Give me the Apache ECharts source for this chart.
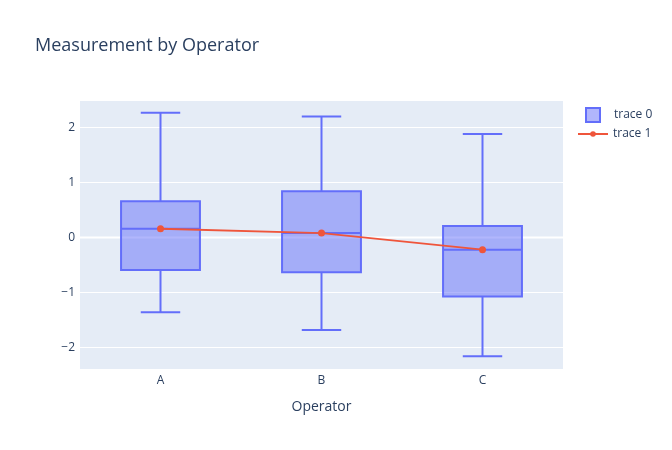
<!DOCTYPE html>
<html>
<head>
<meta charset="utf-8">
<script src="https://cdn.jsdelivr.net/npm/echarts@6/dist/echarts.min.js"></script>
<style>
  html, body { margin: 0; padding: 0; background: #fff; }
  #chart { width: 672px; height: 450px; }
</style>
</head>
<body>
<div id="chart"></div>
<script>
const categories = ['A', 'B', 'C'];
// box stats per operator: min, q1, median, q3, max
const boxMin = [-1.36, -1.68, -2.16];
const boxQ1 = [-0.59, -0.63, -1.07];
const boxMedian = [0.16, 0.08, -0.22];
const boxQ3 = [0.66, 0.84, 0.21];
const boxMax = [2.27, 2.2, 1.88];
const lineValues = [0.16, 0.08, -0.22];
const zeroLine = [0];

const boxData = categories.map((c, i) => [i, boxMin[i], boxQ1[i], boxMedian[i], boxQ3[i], boxMax[i]]);

const BOX_LINE = '#636efa';
const BOX_FILL = 'rgba(99,110,250,0.5)';
const LINE_COLOR = '#EF553B';
const TEXT = '#2a3f5f';
const FONT = '"Open Sans", verdana, arial, sans-serif';

function renderBox(params, api) {
  const idx = api.value(0);
  const band = api.size([1, 0])[0];
  const half = band * 0.245;
  const cap = half / 2;
  const pMin = api.coord([idx, api.value(1)]);
  const pQ1 = api.coord([idx, api.value(2)]);
  const pMed = api.coord([idx, api.value(3)]);
  const pQ3 = api.coord([idx, api.value(4)]);
  const pMax = api.coord([idx, api.value(5)]);
  const x = pMin[0];
  const stroke = { stroke: BOX_LINE, lineWidth: 2, fill: null };

  return {
    type: 'group',
    children: [
      { type: 'rect', shape: { x: x - half, y: pQ3[1], width: half * 2, height: pQ1[1] - pQ3[1] },
        style: { fill: BOX_FILL, stroke: BOX_LINE, lineWidth: 2 } },
      { type: 'line', shape: { x1: x - half, y1: pMed[1], x2: x + half, y2: pMed[1] }, style: stroke },
      { type: 'line', shape: { x1: x, y1: pQ3[1], x2: x, y2: pMax[1] }, style: stroke },
      { type: 'line', shape: { x1: x, y1: pQ1[1], x2: x, y2: pMin[1] }, style: stroke },
      { type: 'line', shape: { x1: x - cap, y1: pMax[1], x2: x + cap, y2: pMax[1] }, style: stroke },
      { type: 'line', shape: { x1: x - cap, y1: pMin[1], x2: x + cap, y2: pMin[1] }, style: stroke },
    ],
  };
}

// plotly-style thicker zero line, drawn beneath the boxes
function renderZero(params, api) {
  const sys = params.coordSys;
  const y = api.coord([0, api.value(0)])[1];

  return {
    type: 'line',
    shape: { x1: sys.x, y1: y, x2: sys.x + sys.width, y2: y },
    style: { stroke: '#ffffff', lineWidth: 2 },
  };
}

const chart = echarts.init(document.getElementById('chart'), null, { renderer: 'canvas' });

const legendText = { color: TEXT, fontSize: 12, fontFamily: FONT };

chart.setOption({
  animation: false,
  backgroundColor: '#fff',
  textStyle: { fontFamily: FONT },
  title: {
    text: 'Measurement by Operator',
    left: 30,
    top: 32,
    textStyle: { color: TEXT, fontSize: 18, fontWeight: 'normal', fontFamily: FONT },
  },
  legend: [
    {
      left: 580,
      top: 102,
      itemWidth: 14,
      itemHeight: 14,
      textStyle: Object.assign({ padding: [0, 0, 0, 9] }, legendText),
      data: [
        {
          name: 'trace 0',
          icon: 'rect',
          itemStyle: { color: BOX_FILL, borderColor: BOX_LINE, borderWidth: 2 },
        },
      ],
    },
    {
      left: 572,
      top: 123,
      itemWidth: 30,
      itemHeight: 7,
      textStyle: legendText,
      data: ['trace 1'],
    },
  ],
  grid: {
    left: 80,
    right: 109,
    top: 100,
    bottom: 81,
    show: true,
    backgroundColor: '#E5ECF6',
    borderWidth: 0,
  },
  xAxis: {
    type: 'category',
    data: categories,
    name: 'Operator',
    nameLocation: 'middle',
    nameGap: 31,
    nameTextStyle: { color: TEXT, fontSize: 14, fontFamily: FONT },
    axisLine: { show: false },
    axisTick: { show: false },
    axisLabel: { color: TEXT, fontSize: 12, margin: 6 },
    splitLine: { show: false },
  },
  yAxis: {
    type: 'value',
    min: -2.39,
    max: 2.5,
    splitNumber: 5,
    axisLine: { show: false },
    axisTick: { show: false },
    axisLabel: {
      color: TEXT,
      fontSize: 12,
      margin: 5,
      showMinLabel: false,
      showMaxLabel: false,
      formatter: (v) => String(v).replace('-', '\u2212'),
    },
    splitLine: { lineStyle: { color: '#ffffff', width: 1 } },
  },
  series: [
    {
      type: 'custom',
      renderItem: renderZero,
      data: zeroLine,
      encode: { y: 0 },
      silent: true,
      z: 1,
    },
    {
      name: 'trace 0',
      type: 'custom',
      renderItem: renderBox,
      data: boxData,
      encode: { x: 0, y: [1, 2, 3, 4, 5] },
      itemStyle: { color: BOX_FILL, borderColor: BOX_LINE },
      z: 2,
    },
    {
      name: 'trace 1',
      type: 'line',
      data: lineValues,
      symbol: 'circle',
      symbolSize: 7,
      color: LINE_COLOR,
      lineStyle: { color: LINE_COLOR, width: 2 },
      itemStyle: { color: LINE_COLOR },
      z: 3,
    },
  ],
});
</script>
</body>
</html>
